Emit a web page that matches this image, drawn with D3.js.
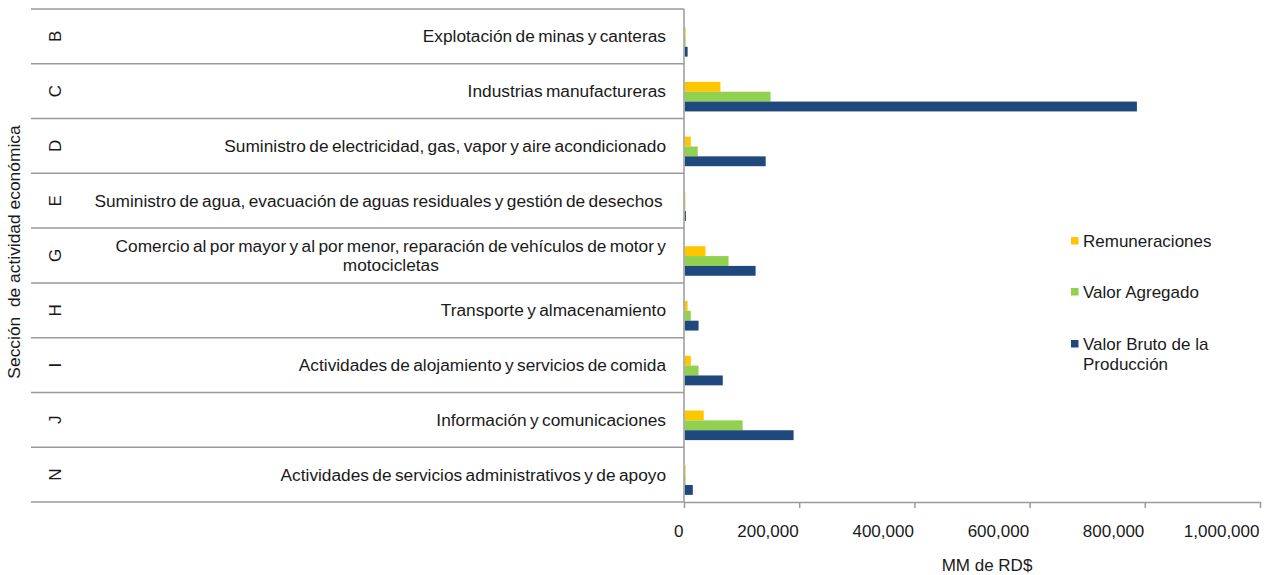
<!DOCTYPE html>
<html>
<head>
<meta charset="utf-8">
<script src="https://cdn.jsdelivr.net/npm/d3@7"></script>
<style>
  html, body { margin: 0; padding: 0; background: #fff; }
  svg { display: block; font-family: "Liberation Sans", Arial, sans-serif; }
  text { fill: #1a1a1a; }
</style>
</head>
<body>
<svg id="chart" width="1268" height="575"></svg>
<script>
// ---- data ----
const sectionCodes = ["B", "C", "D", "E", "G", "H", "I", "J", "N"];
const sectionNames = [
  ["Explotación de minas y canteras"],
  ["Industrias manufactureras"],
  ["Suministro de electricidad, gas, vapor y aire acondicionado"],
  ["Suministro de agua, evacuación de aguas residuales y gestión de desechos\u00A0"],
  ["Comercio al por mayor y al por menor, reparación de vehículos de motor y", "motocicletas"],
  ["Transporte y almacenamiento"],
  ["Actividades de alojamiento y servicios de comida"],
  ["Información y comunicaciones"],
  ["Actividades de servicios administrativos y de apoyo"]
];
const seriesNames = ["Remuneraciones", "Valor Agregado", "Valor Bruto de la Producción"];
const remuneraciones = [1500, 62000, 10500, 1000, 36000, 5000, 10500, 33000, 1500];
const valorAgregado = [1500, 149000, 22500, 1000, 76000, 10500, 24000, 100500, 1500];
const valorBruto = [5000, 785000, 140500, 2000, 123000, 24000, 66000, 189000, 14000];
const xTicks = [0, 200000, 400000, 600000, 800000, 1000000];
const seriesColors = ["#FFC600", "#92D050", "#1F497D"];
const xTitle = "MM de RD$";
const yTitle = "Sección  de actividad económica";

const seriesValues = [remuneraciones, valorAgregado, valorBruto];

// ---- layout ----
const svg = d3.select("#chart");
const plotTop = 9, plotBottom = 502;
const tableLeft = 31;
const x = d3.scaleLinear().domain([0, 1000000]).range([684, 1260]);
const y = d3.scaleBand().domain(sectionCodes).range([plotTop, plotBottom]).padding(0);
const bw = y.bandwidth();
const lineColor = "#9a9a9a";

// separators of the category table
const bounds = sectionCodes.map(c => y(c)).concat([plotBottom]);
svg.append("g").selectAll("line").data(bounds).join("line")
  .attr("x1", tableLeft).attr("x2", x(0))
  .attr("y1", d => d).attr("y2", d => d)
  .attr("stroke", lineColor).attr("stroke-width", 1.5);

// bars
const barG = svg.append("g");
seriesValues.forEach((vals, si) => {
  barG.append("g").selectAll("rect").data(vals).join("rect")
    .attr("x", x(0) + 0.75)
    .attr("y", (d, i) => y(sectionCodes[i]) + bw * 0.33 + si * bw * 0.18)
    .attr("width", d => Math.max(0, x(d) - x(0)))
    .attr("height", bw * 0.18)
    .attr("fill", seriesColors[si]);
});

// x axis
const xAxis = d3.axisBottom(x).tickValues(xTicks).tickSize(6).tickSizeOuter(0)
  .tickFormat(d3.format(","));
const axG = svg.append("g").attr("transform", `translate(0,${plotBottom})`).call(xAxis);
axG.select(".domain").attr("stroke", lineColor).attr("stroke-width", 1.5);
axG.selectAll(".tick line").attr("stroke", lineColor).attr("stroke-width", 1.5);
axG.selectAll(".tick text")
  .attr("text-anchor", "end").attr("x", -1).attr("y", 35).attr("dy", 0)
  .style("font-size", "17px").style("font-family", "'Liberation Sans', Arial, sans-serif")
  .attr("fill", "#1a1a1a");

// vertical axis line
svg.append("line")
  .attr("x1", x(0)).attr("x2", x(0))
  .attr("y1", plotTop).attr("y2", plotBottom)
  .attr("stroke", lineColor).attr("stroke-width", 1.5);

// section letters
svg.append("g").selectAll("text").data(sectionCodes).join("text")
  .attr("transform", d => `translate(61,${y(d) + bw / 2}) rotate(-90)`)
  .attr("text-anchor", "middle")
  .style("font-size", "17px")
  .text(d => d);

// section names
const nameG = svg.append("g").style("font-size", "17.3px").style("word-spacing", "-1.4px");
sectionNames.forEach((lines, i) => {
  const cy = y(sectionCodes[i]) + bw / 2;
  const n = lines.length;
  const lh = 19;
  const first = nameG.append("text")
    .attr("x", 666).attr("y", cy - (n - 1) * lh / 2 + 6)
    .attr("text-anchor", "end").text(lines[0]);
  if (n > 1) {
    const w = first.node().getComputedTextLength();
    const center = 666 - w / 2;
    for (let k = 1; k < n; k++) {
      nameG.append("text")
        .attr("x", center).attr("y", cy - (n - 1) * lh / 2 + k * lh + 6)
        .attr("text-anchor", "middle").text(lines[k]);
    }
  }
});

// y title
svg.append("text")
  .attr("transform", "translate(20,252) rotate(-90)")
  .attr("text-anchor", "middle")
  .style("font-size", "17.4px").style("white-space", "pre")
  .text(yTitle);

// x title
svg.append("text")
  .attr("x", 987).attr("y", 571)
  .attr("text-anchor", "middle")
  .style("font-size", "17px")
  .text(xTitle);

// legend
const legendY = [241, 292, 344];
const lg = svg.append("g");
seriesNames.forEach((name, i) => {
  lg.append("rect").attr("x", 1071).attr("y", legendY[i] - 4).attr("width", 7.5).attr("height", 7.5)
    .attr("fill", seriesColors[i]);
  const words = name === "Valor Bruto de la Producción" ? ["Valor Bruto de la", "Producción"] : [name];
  words.forEach((w, k) => {
    lg.append("text").attr("x", 1083).attr("y", legendY[i] + 6 + k * 20)
      .style("font-size", "17px").text(w);
  });
});
</script>
</body>
</html>
